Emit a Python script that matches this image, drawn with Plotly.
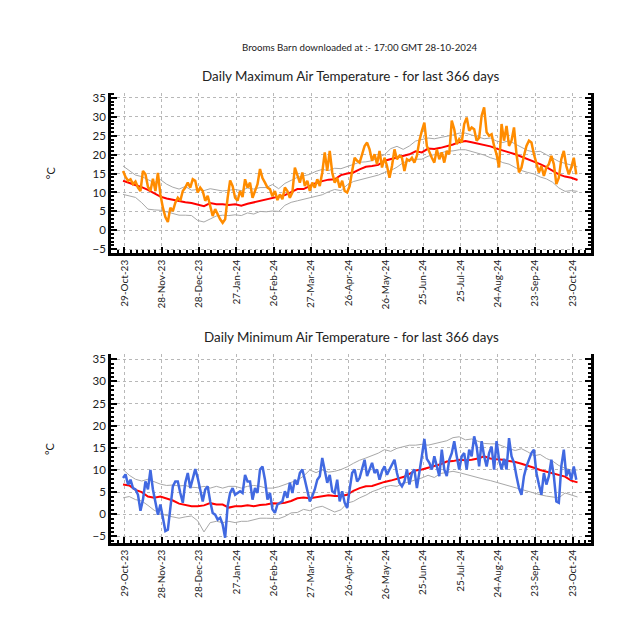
import plotly.graph_objects as go
import pandas as pd

# ---------------- data ----------------
START = "2023-10-28"
# daily maximum air temperature, every 2nd day
max_temp = [
    15.7, 14.1, 13.1, 13.5, 12.2, 12.9, 11.3, 10.4, 15.7, 14.8,
    11.5, 10.4, 13.6, 10.4, 15.2, 9.5, 6.0, 3.5, 2.2, 6.0,
    5.1, 7.3, 8.6, 7.8, 10.4, 11.3, 12.6, 11.3, 13.5, 13.1,
    10.0, 11.3, 10.4, 7.8, 9.1, 6.4, 3.8, 5.6, 4.2, 2.9,
    2.0, 2.9, 8.6, 13.2, 11.7, 8.6, 7.8, 10.4, 8.8, 13.5,
    11.3, 12.6, 8.6, 10.4, 12.2, 16.2, 13.8, 12.6, 11.3, 10.9,
    9.0, 10.4, 8.0, 9.5, 8.2, 11.3, 10.4, 8.6, 10.0, 16.6,
    14.4, 12.6, 15.3, 11.7, 13.1, 10.4, 12.6, 11.3, 13.5, 11.7,
    15.3, 20.6, 15.7, 21.0, 15.3, 12.6, 13.9, 11.3, 13.1, 10.4,
    10.0, 11.7, 15.7, 19.2, 18.4, 17.9, 20.1, 22.3, 23.2, 21.4,
    18.4, 20.1, 17.5, 21.0, 16.6, 19.2, 17.0, 13.9, 17.0, 21.4,
    18.8, 19.7, 19.2, 15.7, 18.8, 18.4, 19.2, 17.9, 19.7, 23.7,
    26.3, 28.5, 22.3, 20.5, 19.2, 17.9, 21.4, 18.8, 20.6, 17.9,
    21.0, 20.1, 29.0, 26.7, 22.8, 24.1, 23.2, 28.1, 29.8, 26.3,
    27.2, 26.7, 23.7, 24.5, 30.3, 32.5, 25.9, 25.0, 25.4, 22.3,
    20.1, 16.6, 28.1, 23.7, 27.6, 22.3, 23.7, 27.2, 20.1, 15.3,
    16.6, 19.7, 22.3, 23.7, 23.2, 20.1, 17.5, 15.3, 17.0, 14.4,
    16.6, 17.5, 19.7, 17.5, 12.2, 13.9, 18.8, 21.0, 17.0, 14.8,
    16.6, 19.2, 14.8,
]
# daily minimum air temperature, every 2nd day
min_temp = [
    8.2, 9.0, 6.7, 7.8, 5.9, 5.6, 4.4, 0.8, 3.3, 7.4,
    5.6, 10.0, 5.6, 2.6, -0.1, 2.2, -0.5, -3.8, -3.5, 1.1,
    6.3, 7.4, 7.4, 4.8, 2.6, 7.1, 9.3, 5.9, 7.8, 10.2,
    8.2, 5.2, 2.9, 5.6, 6.3, 2.9, 0.3, -0.1, -1.2, -0.8,
    -2.3, -5.3, 1.8, 4.8, 5.9, 4.4, 4.8, 5.2, 4.8, 8.9,
    7.4, 7.4, 3.3, 5.9, 4.8, 10.1, 10.8, 7.8, 3.3, 4.8,
    1.1, 0.3, 2.2, 2.6, 2.9, 5.2, 3.7, 7.1, 4.8, 7.8,
    6.7, 9.3, 10.1, 7.8, 5.6, 2.9, 4.1, 5.6, 7.8, 8.6,
    12.7, 10.1, 7.1, 8.9, 5.2, 4.8, 7.8, 2.9, 5.2, 2.6,
    1.4, 5.6, 9.3, 10.1, 7.4, 8.2, 10.1, 12.3, 8.6, 10.1,
    11.6, 9.3, 10.1, 7.8, 9.7, 10.8, 8.9, 10.1, 11.2, 12.3,
    9.3, 7.1, 6.3, 7.4, 10.1, 6.7, 9.3, 10.1, 5.9, 10.1,
    13.1, 17.0, 12.5, 11.6, 10.1, 13.1, 10.8, 8.6, 14.6, 10.1,
    8.6, 12.3, 13.8, 16.5, 13.1, 10.1, 13.1, 13.8, 10.1, 14.6,
    13.1, 17.6, 15.3, 10.8, 16.5, 13.1, 10.8, 13.8, 15.3, 10.1,
    16.5, 12.3, 10.1, 12.5, 10.1, 17.2, 13.1, 11.6, 8.6, 5.9,
    4.4, 8.6, 10.8, 12.3, 13.8, 14.6, 9.3, 6.7, 4.4, 9.3,
    6.7, 8.6, 12.3, 8.6, 2.9, 2.6, 10.8, 14.6, 8.6, 10.1,
    7.8, 10.8, 7.8,
]
# long-term mean and envelope, every 5th day
max_mean = [
    13.1, 12.6, 12.0, 11.4, 10.7, 9.8, 8.9, 8.4, 8.0, 7.7,
    7.4, 7.2, 6.8, 6.4, 7.2, 6.9, 6.9, 6.7, 6.9, 6.5,
    7.0, 7.4, 7.7, 8.0, 8.6, 8.9, 9.3, 10.1, 10.9, 10.9,
    11.7, 12.5, 13.0, 13.4, 13.5, 14.6, 15.0, 15.3, 16.1, 16.8,
    17.0, 17.3, 18.4, 18.8, 19.2, 19.7, 20.1, 20.9, 20.6, 21.6,
    21.5, 21.8, 22.2, 22.7, 23.3, 23.6, 23.3, 22.9, 22.7, 22.2,
    21.6, 21.0, 20.6, 20.1, 19.5, 18.9, 18.3, 17.5, 16.7, 15.8,
    14.8, 14.2, 13.9, 13.3,
]
max_upper = [
    17.0, 15.8, 14.6, 14.2, 13.3, 12.6, 13.4, 12.2, 11.4, 10.9,
    11.6, 10.6, 10.8, 10.5, 11.0, 10.8, 10.4, 10.6, 10.8, 10.5,
    11.2, 10.9, 11.3, 11.3, 12.1, 11.0, 12.4, 13.2, 14.0, 14.4,
    14.8, 15.6, 16.1, 15.8, 16.4, 16.3, 16.8, 17.3, 18.0, 18.1,
    18.4, 19.3, 20.0, 21.6, 22.2, 21.4, 22.3, 23.6, 24.1, 24.4,
    24.2, 24.5, 24.9, 25.2, 25.7, 25.7, 25.2, 24.8, 24.2, 24.4,
    23.6, 23.2, 23.7, 22.8, 22.0, 21.1, 20.7, 20.9, 20.0, 19.1,
    18.2, 17.7, 17.2, 16.8,
]
max_lower = [
    9.5, 9.1, 8.7, 7.3, 5.6, 5.4, 5.3, 4.9, 4.5, 4.0,
    4.0, 3.9, 2.6, 2.2, 3.0, 3.8, 4.0, 3.9, 4.1, 3.9,
    4.6, 4.3, 5.0, 4.9, 5.1, 5.0, 6.6, 7.4, 7.8, 8.2,
    8.6, 9.1, 9.4, 10.2, 10.8, 10.5, 12.0, 12.9, 13.3, 13.7,
    14.1, 14.6, 15.3, 15.8, 16.7, 17.9, 18.4, 18.8, 18.8, 19.6,
    20.0, 20.5, 20.9, 21.0, 21.3, 21.3, 20.9, 20.4, 19.9, 19.2,
    18.7, 17.9, 17.5, 16.6, 15.8, 15.3, 14.9, 14.1, 13.6, 12.7,
    11.2, 10.3, 10.5, 10.3,
]
min_mean = [
    6.7, 6.5, 5.5, 5.0, 4.0, 3.7, 4.0, 3.6, 3.1, 2.4,
    2.1, 1.8, 1.8, 2.0, 2.5, 2.2, 2.2, 1.5, 1.8, 1.8,
    2.0, 1.8, 2.1, 2.2, 2.5, 2.4, 2.6, 3.0, 3.6, 3.8,
    3.6, 3.8, 4.1, 4.3, 4.1, 4.1, 4.4, 5.3, 5.9, 6.3,
    6.4, 6.9, 7.3, 7.6, 8.0, 8.4, 9.1, 9.9, 10.1, 10.5,
    10.8, 11.3, 11.9, 12.0, 12.3, 12.2, 12.3, 12.6, 13.1, 12.6,
    12.4, 12.3, 12.0, 11.8, 11.4, 11.0, 10.5, 10.0, 9.6, 9.3,
    8.9, 8.5, 7.6, 7.2,
]
min_upper = [
    10.1, 8.8, 7.9, 7.5, 7.9, 7.3, 6.8, 6.5, 6.6, 6.4,
    6.5, 6.1, 6.0, 6.3, 5.9, 6.3, 5.9, 6.3, 6.3, 5.9,
    6.3, 6.5, 6.3, 5.9, 5.9, 6.2, 6.7, 7.2, 7.7, 8.6,
    10.0, 9.4, 10.0, 9.5, 9.7, 10.1, 10.7, 11.5, 12.2, 12.7,
    13.2, 13.8, 14.6, 14.2, 14.9, 15.2, 15.6, 15.6, 15.8, 15.6,
    15.9, 16.3, 16.6, 17.3, 17.5, 16.8, 17.0, 16.5, 16.0, 15.9,
    15.9, 15.4, 14.8, 14.4, 14.8, 14.1, 13.2, 13.5, 12.6, 12.0,
    11.0, 10.4, 10.0, 10.0,
]
min_lower = [
    3.7, 4.0, 3.3, 3.0, 2.0, 0.9, 0.2, -0.3, -0.6, -0.9,
    -0.6, -0.4, -1.5, -4.0, -1.9, -1.6, -1.9, -1.6, -1.9, -1.6,
    -1.6, -1.2, -0.9, -0.9, -1.0, -1.0, -0.5, 0.3, 0.4, 1.1,
    0.8, 1.5, 1.8, 1.1, 0.5, 1.0, 2.5, 2.9, 3.7, 4.3,
    5.1, 5.6, 6.2, 6.5, 6.3, 7.0, 7.3, 7.8, 8.2, 8.8,
    8.3, 9.2, 9.5, 9.7, 9.4, 9.0, 8.6, 8.3, 7.9, 7.6,
    7.2, 6.7, 6.3, 5.9, 5.5, 5.1, 4.8, 4.4, 4.1, 3.9,
    3.7, 4.8, 4.4, 3.9,
]
tick_dates = ["2023-10-29", "2023-11-28", "2023-12-28", "2024-01-27", "2024-02-26",
              "2024-03-27", "2024-04-26", "2024-05-26", "2024-06-25", "2024-07-25",
              "2024-08-24", "2024-09-23", "2024-10-23"]
tick_labels = ["29-Oct-23", "28-Nov-23", "28-Dec-23", "27-Jan-24", "26-Feb-24",
               "27-Mar-24", "26-Apr-24", "26-May-24", "25-Jun-24", "25-Jul-24",
               "24-Aug-24", "23-Sep-24", "23-Oct-24"]
y_ticks = [-5, 0, 5, 10, 15, 20, 25, 30, 35]

header = "Brooms Barn downloaded at :- 17:00 GMT 28-10-2024"
title_max = "Daily Maximum Air Temperature - for last 366 days"
title_min = "Daily Minimum Air Temperature - for last 366 days"

# ---------------- figure ----------------
d2 = pd.date_range(START, periods=len(max_temp), freq="2D")
d2b = pd.date_range(START, periods=len(min_temp), freq="2D")
d5 = pd.date_range(START, periods=len(max_mean), freq="5D")

FONT = "Lato, Carlito, sans-serif"
GREY = "#a8a8a8"
fig = go.Figure()

def add_panel(xa, ya, obs, obs_dates, color, mean, up, lo):
    fig.add_trace(go.Scatter(x=d5, y=up, mode="lines", line=dict(color=GREY, width=1),
                             xaxis=xa, yaxis=ya, hoverinfo="skip"))
    fig.add_trace(go.Scatter(x=d5, y=lo, mode="lines", line=dict(color=GREY, width=1),
                             xaxis=xa, yaxis=ya, hoverinfo="skip"))
    fig.add_trace(go.Scatter(x=d5, y=mean, mode="lines", line=dict(color="#ff0000", width=2),
                             xaxis=xa, yaxis=ya))
    fig.add_trace(go.Scatter(x=obs_dates, y=obs, mode="lines", line=dict(color=color, width=2.5),
                             xaxis=xa, yaxis=ya))

add_panel("x", "y", max_temp, d2, "#ff8c00", max_mean, max_upper, max_lower)
add_panel("x2", "y2", min_temp, d2b, "#4169e1", min_mean, min_upper, min_lower)

xcommon = dict(
    type="date", range=["2023-10-18 08:00", "2024-11-06 20:00"], automargin=False,
    tickmode="array", tickvals=tick_dates, ticktext=tick_labels, tickangle=-90,
    ticks="inside", ticklen=6, tickwidth=1.5, tickcolor="black",
    showline=True, linewidth=2.5, linecolor="black", mirror=False,
    showgrid=True, gridcolor="#b8b8b8", griddash="dot", gridwidth=1,
    tickfont=dict(family=FONT, size=10, color="#222"),
    minor=dict(ticks="inside", ticklen=3, tickwidth=1.5, tickcolor="black",
               dtick=5 * 86400000, tick0="2023-10-29", showgrid=False),
    fixedrange=True,
)
ycommon = dict(
    tickmode="array", tickvals=y_ticks, automargin=False,
    ticks="inside", ticklen=6, tickwidth=1.5, tickcolor="black",
    showline=True, linewidth=2.5, linecolor="black", mirror="ticks",
    showgrid=True, gridcolor="#b8b8b8", griddash="dot", gridwidth=1, zeroline=False,
    tickfont=dict(family=FONT, size=11.5, color="#222"),
    minor=dict(ticks="inside", ticklen=3, tickwidth=1.5, tickcolor="black",
               dtick=1, tick0=0, showgrid=False),
    fixedrange=True,
)

def note(text, x, y, size, angle=0):
    return dict(text=text, x=x, y=y, xref="paper", yref="paper", showarrow=False,
                xanchor="center", yanchor="middle", textangle=angle,
                font=dict(size=size, family=FONT, color="#222"))

# the page body adds an 8 px offset, so the figure is 629 px and margins are shifted
fig.update_layout(
    width=629, height=629, showlegend=False,
    paper_bgcolor="white", plot_bgcolor="white",
    margin=dict(l=103, r=46, t=85, b=94),
    font=dict(family=FONT, color="#222"),
    xaxis=dict(xcommon, domain=[0, 1], anchor="y"),
    yaxis=dict(ycommon, domain=[0.6444, 1.0], range=[-6.0, 36.3], anchor="x"),
    xaxis2=dict(xcommon, domain=[0, 1], anchor="y2"),
    yaxis2=dict(ycommon, domain=[0.0, 0.42], range=[-6.5, 36.2], anchor="x2"),
    annotations=[
        note(header, 0.519, 1.102, 9.7),
        note(title_max, 0.5, 1.0378, 13.4),
        note(title_min, 0.5, 0.4578, 13.4),
        note("°C", -0.127, 0.822, 11, -90),
        note("°C", -0.127, 0.209, 11, -90),
    ],
)

fig.write_html("out.html")
